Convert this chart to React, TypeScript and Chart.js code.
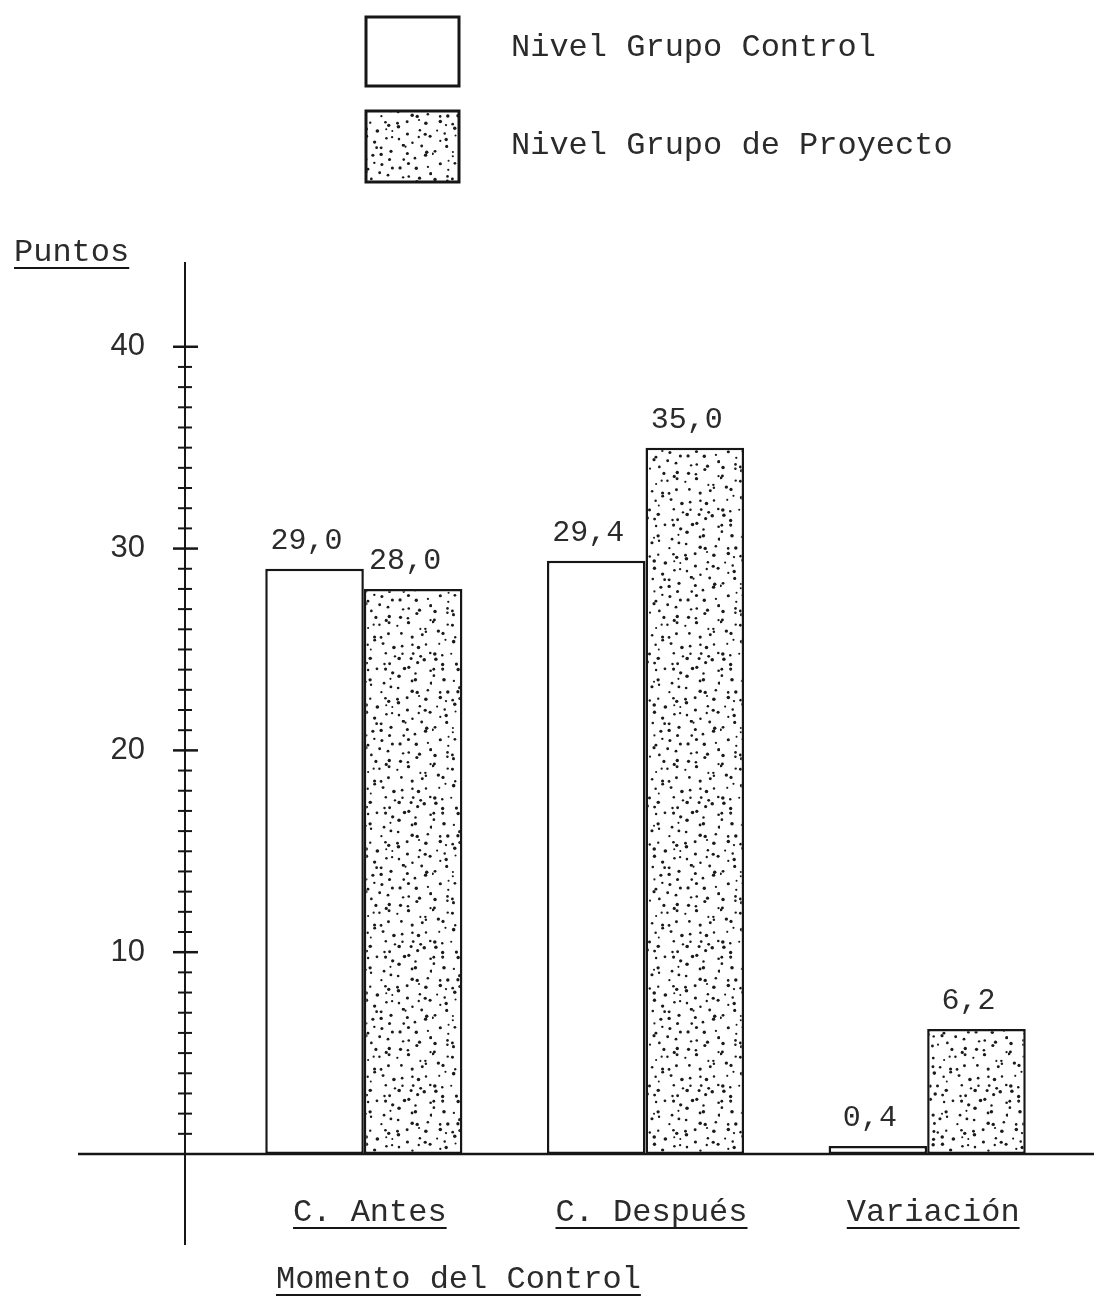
import React, { useEffect, useRef } from "react";
import { Chart, registerables } from "chart.js";

Chart.register(...registerables);

const categories = ["C. Antes", "C. Después", "Variación"];
const seriesNames = ["Nivel Grupo Control", "Nivel Grupo de Proyecto"];
const controlValues = [29.0, 29.4, 0.4];
const proyectoValues = [28.0, 35.0, 6.2];
const majorTicks = [10, 20, 30, 40];
const minorTickStep = 1;
const yMax = 44.2;
const yAxisTitle = "Puntos";
const xAxisTitle = "Momento del Control";

const MONO = '"Liberation Mono", "DejaVu Sans Mono", monospace';
const SANS = '"Liberation Sans", "DejaVu Sans", sans-serif';
const INK = "#161616";
const TEXT = "#2b2b2b";

function fmt(v: number) {
  return v.toFixed(1).replace(".", ",");
}

function makeDotPattern(ctx: CanvasRenderingContext2D) {
  const size = 144;
  const step = 9;
  const c = document.createElement("canvas");
  c.width = size;
  c.height = size;
  const g = c.getContext("2d")!;
  g.fillStyle = "#ffffff";
  g.fillRect(0, 0, size, size);
  let s = 424242;
  const rnd = () => {
    s = (s * 16807) % 2147483647;
    return s / 2147483647;
  };
  g.fillStyle = "#1a1a1a";
  for (let gy = 0; gy < size; gy += step) {
    for (let gx = 0; gx < size; gx += step) {
      const x = gx + step / 2 + (rnd() - 0.5) * step * 0.9;
      const y = gy + step / 2 + (rnd() - 0.5) * step * 0.9;
      const r = 1.0 + rnd() * 0.8;
      g.beginPath();
      g.arc(x, y, r, 0, Math.PI * 2);
      g.fill();
    }
  }
  return ctx.createPattern(c, "repeat")!;
}

function underlinedText(
  ctx: CanvasRenderingContext2D,
  text: string,
  x: number,
  y: number,
  align: CanvasTextAlign
) {
  ctx.textAlign = align;
  ctx.textBaseline = "alphabetic";
  ctx.fillText(text, x, y);
  const w = ctx.measureText(text).width;
  const x0 = align === "center" ? x - w / 2 : align === "right" ? x - w : x;
  ctx.beginPath();
  ctx.lineWidth = 2;
  ctx.strokeStyle = INK;
  ctx.moveTo(x0, y + 7);
  ctx.lineTo(x0 + w, y + 7);
  ctx.stroke();
}

export default function App() {
  const ref = useRef<HTMLCanvasElement | null>(null);

  useEffect(() => {
    const canvas = ref.current!;
    const ctx0 = canvas.getContext("2d")!;
    const dots = makeDotPattern(ctx0);

    const decor = {
      id: "decor",
      beforeDraw(chart: any) {
        const { ctx } = chart;
        ctx.save();
        ctx.fillStyle = "#ffffff";
        ctx.fillRect(0, 0, chart.width, chart.height);
        ctx.restore();
      },
      afterDatasetsDraw(chart: any) {
        const { ctx, chartArea } = chart;
        const y = chart.scales.y;
        const x = chart.scales.x;
        const axisX = chartArea.left - 38;
        const zeroY = y.getPixelForValue(0);
        ctx.save();
        ctx.strokeStyle = INK;
        ctx.lineCap = "butt";

        // x axis line
        ctx.lineWidth = 2.5;
        ctx.beginPath();
        ctx.moveTo(chartArea.left - 145, zeroY);
        ctx.lineTo(chart.width, zeroY);
        ctx.stroke();

        // y axis line
        ctx.lineWidth = 2;
        ctx.beginPath();
        ctx.moveTo(axisX, y.getPixelForValue(yMax));
        ctx.lineTo(axisX, zeroY + 91);
        ctx.stroke();

        // minor ticks
        ctx.lineWidth = 2;
        for (let v = minorTickStep; v < 40; v += minorTickStep) {
          if (majorTicks.includes(v)) continue;
          const py = y.getPixelForValue(v);
          ctx.beginPath();
          ctx.moveTo(axisX - 7, py);
          ctx.lineTo(axisX + 7, py);
          ctx.stroke();
        }
        // major ticks + labels
        ctx.fillStyle = TEXT;
        ctx.font = `31px ${SANS}`;
        ctx.textAlign = "right";
        ctx.textBaseline = "middle";
        for (const v of majorTicks) {
          const py = y.getPixelForValue(v);
          ctx.lineWidth = 2.5;
          ctx.beginPath();
          ctx.moveTo(axisX - 12, py);
          ctx.lineTo(axisX + 13, py);
          ctx.stroke();
          ctx.fillText(String(v), axisX - 40, py);
        }

        // value labels
        ctx.font = `30px ${MONO}`;
        ctx.textAlign = "center";
        ctx.textBaseline = "alphabetic";
        [controlValues, proyectoValues].forEach((vals, di) => {
          const meta = chart.getDatasetMeta(di);
          vals.forEach((v, i) => {
            const el = meta.data[i];
            ctx.fillText(fmt(v), el.x - 8, el.y - 20);
          });
        });

        // category labels
        ctx.font = `32px ${MONO}`;
        ctx.fillStyle = TEXT;
        categories.forEach((c, i) => {
          const px = x.getPixelForValue(i);
          underlinedText(ctx, c, px + 6, zeroY + 67, "center");
        });

        // axis titles
        underlinedText(ctx, xAxisTitle, chartArea.left + 53, zeroY + 134, "left");
        underlinedText(ctx, yAxisTitle, 14, chartArea.top - 1, "left");

        // legend
        const boxes = [
          { y: 17, h: 69, fill: "#ffffff" as any },
          { y: 111, h: 71, fill: dots as any },
        ];
        boxes.forEach((b, i) => {
          ctx.fillStyle = b.fill;
          ctx.fillRect(366, b.y, 93, b.h);
          ctx.lineWidth = 3;
          ctx.strokeStyle = INK;
          ctx.strokeRect(366, b.y, 93, b.h);
          ctx.fillStyle = TEXT;
          ctx.font = `32px ${MONO}`;
          ctx.textAlign = "left";
          ctx.textBaseline = "middle";
          ctx.fillText(seriesNames[i], 511, b.y + b.h / 2 - 4 + i * 3);
        });
        ctx.restore();
      },
    };

    const chart = new Chart(canvas, {
      type: "bar",
      data: {
        labels: categories,
        datasets: [
          {
            label: seriesNames[0],
            data: controlValues,
            backgroundColor: "#ffffff",
            borderColor: INK,
            borderWidth: 2.5,
            borderSkipped: false,
            barPercentage: 1.0,
            categoryPercentage: 0.7,
          },
          {
            label: seriesNames[1],
            data: proyectoValues,
            backgroundColor: dots as any,
            borderColor: INK,
            borderWidth: 2.5,
            borderSkipped: false,
            barPercentage: 1.0,
            categoryPercentage: 0.7,
          },
        ],
      },
      options: {
        animation: false,
        responsive: false,
        devicePixelRatio: 1,
        layout: { padding: { left: 223, right: 26, top: 262, bottom: 142 } },
        plugins: {
          legend: { display: false },
          tooltip: { enabled: false },
          title: { display: false },
        },
        scales: {
          x: { display: false, offset: true },
          y: { display: false, min: 0, max: yMax },
        },
      },
      plugins: [decor],
    });
    return () => chart.destroy();
  }, []);

  return (
    <div style={{ position: "absolute", left: 0, top: 0, width: 1094, height: 1296, background: "#fff" }}>
      <canvas ref={ref} width={1094} height={1296} style={{ display: "block", width: 1094, height: 1296 }} />
    </div>
  );
}
